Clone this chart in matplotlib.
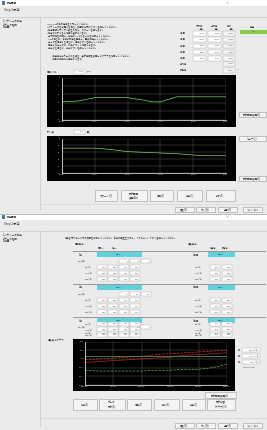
import matplotlib
matplotlib.use("Agg")
import matplotlib.pyplot as plt
from matplotlib.patches import Rectangle
import numpy as np

plt.rcParams['font.family'] = ['Noto Sans CJK JP', 'DejaVu Sans']

W, H = 267, 430

# ---- data ----
chart1_x = [0, 10, 20, 30, 40, 50, 55, 60, 70, 80, 90, 100]
chart1_y = [2.1, 2.2, 2.6, 2.6, 2.6, 2.3, 2.1, 2.1, 2.7, 2.7, 2.7, 2.7]
chart1_xticks = ["00:00", "00:10", "00:20", "00:30", "00:40", "00:50"]
chart1_yticks = ["0", "-10", "-20", "-30", "-40", "-50"]

chart2_x = [0, 10, 20, 30, 40, 50, 60, 70, 80, 90, 100]
chart2_y = [3.6, 3.6, 3.6, 3.4, 3.1, 3.0, 2.9, 2.8, 2.6, 2.5, 2.5]
chart2_xticks = ["00:00", "00:10", "00:20", "00:30", "00:40", "00:50"]
chart2_yticks = ["0", "-10", "-20", "-30", "-40", "-50"]

chart3_x = [0, 10, 20, 30, 40, 50, 60, 70, 80, 90, 100]
chart3_red1 = [2.9, 3.0, 3.1, 3.2, 3.3, 3.5, 3.6, 3.7, 3.8, 3.9, 4.0]
chart3_red2 = [2.6, 2.7, 2.8, 2.9, 3.0, 3.1, 3.2, 3.4, 3.5, 3.6, 3.7]
chart3_green1 = [3.3, 3.3, 3.3, 3.3, 3.3, 3.3, 3.3, 3.3, 3.3, 3.3, 3.3]
chart3_green2 = [1.7, 1.6, 1.6, 1.6, 1.6, 1.7, 1.7, 1.8, 1.8, 2.0, 2.4]
chart3_xticks = ["0:00:00", "1:00:00", "2:00:00", "3:00:00", "4:00:00", "5:00:00"]
chart3_yticks = ["-20.0", "-10.0", "0.0", "10.0", "20.0", "30.0"]
legend3 = ["Max.T(℃)", "Set T(℃)", "Min.T(℃)"]

table1_rows = ["1段目", "2段目", "3段目", "4段目", "5段目"]
table1_low = ["-0.198", "-0.212", "-0.196", "-0.204", "-0.200"]
table1_high = ["-0.090", "-0.094", "-0.101", "-0.098", "-0.096"]
table1_avg = ["-0.142", "-0.150", "-0.147", "-0.152", "-0.148"]

stage_labels = ["1段", "2段", "3段"]
stage_names = ["0.0kv", "0.0kv", "0.0kV"]
temp_labels = ["1段目", "2段目", "3段目"]
row_labels = ["Tin(℃)", "Tout(℃)", "Tset(℃)"]

buttons1 = ["スタート(S)", "表示範囲\n変更(Alt)", "保存(S)", "中止(C)", "終了(F)"]
buttons2 = ["読込(R)", "データ\n表示(D)", "保存(S)", "削除(D)", "中止(C)", "表示切替\n(グラフ)(G)"]
nav_buttons = ["戻る(B)", "次へ(N)", "完了(F)", "キャンセル"]

fig = plt.figure(figsize=(W / 100, H / 100), dpi=100)
bg = fig.add_axes([0, 0, 1, 1])
bg.set_xlim(0, W)
bg.set_ylim(H, 0)
bg.axis('off')

BG = '#ebebeb'
fs = 2.2

def rect(x, y, w, h, fc, ec='none', lw=0.4, z=1):
    bg.add_patch(Rectangle((x, y), w, h, facecolor=fc, edgecolor=ec, linewidth=lw, zorder=z))

def txt(x, y, s, size=fs, color='#333333', ha='left', va='center', **kw):
    bg.text(x, y, s, fontsize=size, color=color, ha=ha, va=va, zorder=5, **kw)

def button(x, y, w, h, label):
    rect(x, y, w, h, '#f4f4f4', '#999999', 0.4, 3)
    txt(x + w / 2, y + h / 2, label, size=1.8, ha='center', linespacing=1.0)

def box(x, y, w, h, s='', fc='white'):
    rect(x, y, w, h, fc, '#aaaaaa', 0.3, 3)
    if s:
        txt(x + w - 1, y + h / 2, s, size=1.6, ha='right', color='#555555')

def window(y0, y1, step):
    rect(0, y0, W, y1 - y0, BG, z=0)
    rect(0, y0, W, 6, 'white', z=1)
    rect(1.5, y0 + 1.2, 3.5, 3.5, '#4a6fb0', z=2)
    txt(7, y0 + 3, "設定画面", size=1.8)
    txt(225, y0 + 3, "×", size=2.2, color='#666666')
    txt(4, y0 + 10, step, size=2.2)
    bg.plot([0, W], [y0 + 17, y0 + 17], color='#c8c8c8', lw=0.5, zorder=2)
    txt(3, y0 + 21, "1.パラメータ設定", size=1.8)
    txt(3, y0 + 24, "2.データ確認", size=1.8)
    txt(3, y0 + 27, "3.結果", size=1.8, weight='bold')
    bg.plot([40, 40], [y0 + 17, y1 - 4], color='#c8c8c8', lw=0.5, zorder=2)

def nav(y):
    xs = [175, 196, 218, 243]
    for x, lab in zip(xs, nav_buttons):
        button(x, y, 19, 5, lab)

def make_chart(rect_px, inner_px, xs, ys_list, styles, xt, yt):
    x0, y0, w, h = rect_px
    rect(x0, y0, w, h, 'black', z=2)
    ix0, iy0, iw, ih = inner_px
    ax = fig.add_axes([ix0 / W, 1 - (iy0 + ih) / H, iw / W, ih / H])
    ax.set_facecolor('black')
    for ys, st in zip(ys_list, styles):
        ax.plot(xs, ys, **st)
    ax.set_xlim(0, 100)
    ax.set_ylim(0, 5)
    ax.set_xticks(np.linspace(0, 100, len(xt)))
    ax.set_xticklabels(xt, fontsize=1.6, color='#dddddd')
    ax.set_yticks(np.linspace(5, 0, len(yt)))
    ax.set_yticklabels(yt, fontsize=1.6, color='#dddddd')
    ax.tick_params(length=0, pad=1)
    ax.grid(True, color='#666666', lw=0.3)
    for s in ['top', 'right']:
        ax.spines[s].set_visible(False)
    for s in ['left', 'bottom']:
        ax.spines[s].set_color('white')
        ax.spines[s].set_linewidth(0.5)
    return ax

# ================= window 1 =================
window(0, 214, "Step 1 設定")
instr = [
    "1.WNxxxxの各設定値を入力してください。",
    "2.パラメータを変更する場合、変更後に反映ボタンを押してください。",
    "3.測定周期とサンプル数を入力し、スタートを押します。",
    "4.測定が終了すると結果が表示されます。",
    "  上下限値を確認し、判定がOKであることを確認してください。",
    "  NGの場合は、各段の設定を見直し、再度測定してください。",
    "  データを保存する場合は、保存ボタンを押してください。",
    "  保存したデータは、読込ボタンで確認できます。",
    "  中止する場合は、中止ボタンを押してください。",
]
for i, s in enumerate(instr):
    txt(47, 24.5 + i * 3.0, s, size=1.6)
txt(50, 56, "・測定値にエラーがある場合、表示範囲を変更してグラフを確認してください。", size=1.6)
txt(50, 59, "・結果は自動的に保存されます。", size=1.6)

# table
for x, s in zip([199, 214, 229], ["下限値", "上限値", "平均"]):
    txt(x, 25.5, s, size=1.7, ha='center')
for x in [204, 219, 234]:
    txt(x, 29, "[単位]", size=1.4, ha='right')
for i, lab in enumerate(table1_rows):
    y = 31 + i * 6.3
    txt(180, y + 2.2, lab, size=1.7)
    box(193, y, 13, 4.5, table1_low[i])
    box(208, y, 13, 4.5, table1_high[i])
    box(223, y, 12, 4.5, table1_avg[i], fc='#f5f5f5')
txt(180, 63.5, "平均値", size=1.7)
box(223, 61.5, 12, 4.5, "-0.148", fc='#f5f5f5')
txt(180, 70, "誤差値", size=1.7)
box(223, 68, 12, 4.5, "0.020", fc='#f5f5f5')
txt(237, 70, "%", size=1.6)
txt(252, 27, "判定", size=1.8, ha='center')
rect(240, 29.5, 27, 4, '#86cf45', z=3)
txt(253, 31.5, "OK", size=1.7, ha='center', color='#1a4d00')

# chart 1
txt(47, 71.5, "周期(ﾐﾘ秒)", size=1.7)
box(74, 69.5, 11, 4, "1000")
txt(87, 71.5, "[ms]", size=1.6)
make_chart((47, 74.5, 189, 52.5), (62, 77.5, 164, 42), chart1_x, [chart1_y],
           [dict(color='#7fd46a', lw=0.5)], chart1_xticks, chart1_yticks)
button(239, 112, 27, 5, "表示範囲変更(V)")

# chart 2
txt(47, 132, "ｻﾝﾌﾟﾙ数", size=1.7)
box(74, 130, 11, 4, "100")
txt(87, 132, "[回]", size=1.6)
make_chart((47, 135.5, 189, 45.5), (62, 138.5, 164, 34.5), chart2_x, [chart2_y],
           [dict(color='#7fd46a', lw=0.5)], chart2_xticks, chart2_yticks)
button(239, 136, 27, 5, "セーブ(L)")
button(239, 176, 27, 5, "表示範囲変更(V)")
txt(232, 183, "▲", size=1.5, color='white')

for x, w, lab in zip([95, 121, 150, 177, 206], [22, 26, 23, 25, 29], buttons1):
    button(x, 190, w, 11, lab)
bg.plot([40, W], [204, 204], color='#d0d0d0', lw=0.4, zorder=2)
nav(207)

# ================= window 2 =================
window(214, 430, "Step 2 設定")
rect(0, 214, W, 1.2, '#bdbdbd', z=2)
txt(65, 238, "測定を行う前に以下の項目を確認してください。各段の電圧を入力し、「スタート」ボタンを押してください。", size=1.6)
txt(75, 243.5, "周期条件", size=1.7)
txt(188, 243.5, "温度条件", size=1.7)
txt(98, 248, "周期(S)", size=1.5)
txt(112, 248, "値(kV)", size=1.5)
txt(210, 248, "測定値", size=1.5)
txt(222, 248, "設定値", size=1.5)

block_tops = [252, 285, 318]
for b, yb in enumerate(block_tops):
    bg.plot([73, 265], [yb - 1.5, yb - 1.5], color='#888888', lw=0.6, zorder=2)
    txt(79, yb + 2.5, stage_labels[b], size=1.8)
    rect(97, yb, 45, 4.8, '#5fd3dc', z=3)
    txt(119, yb + 2.4, stage_names[b], size=1.6, ha='center', color='#114')
    txt(193, yb + 2.5, temp_labels[b], size=1.8)
    rect(208, yb, 27, 4.8, '#5fd3dc', z=3)
    txt(221, yb + 2.4, "0.0kv", size=1.6, ha='center', color='#114')
    y = yb + 7
    txt(78, y + 2, "Dur.(秒)", size=1.6)
    for k, x in enumerate([119, 130, 141]):
        box(x, y, 10, 4.2, ["5", "10", "5"][k] if b != 1 else ["10", "0.1", "1.0"][k])
    for r in range(3):
        yy = yb + 13 + r * 6
        if yy > 333:
            break
        txt(85, yy + 2, row_labels[r], size=1.5)
        for k, x in enumerate([97, 108, 119, 130]):
            box(x, yy, 10, 4.2, ["1.00", "0.00", "8.01", "0.58"][k])
        txt(195, yy + 2, row_labels[r], size=1.5)
        box(210, yy, 10, 4.2, "-1.60")
        box(222, yy, 10, 4.2, "0.00")
for r in range(3):
    yy = 322 + r * 5.3
    txt(85, yy + 2, row_labels[r], size=1.5)
    for k, x in enumerate([97, 108, 119, 130]):
        box(x, yy, 10, 4.0, ["1.00", "0.00", "8.01", "0.58"][k])
    txt(195, yy + 2, row_labels[r], size=1.5)
    box(210, yy, 10, 4.0, "-1.60")
    box(222, yy, 10, 4.0, "0.00")

# chart 3
txt(48, 339.5, "温度変化グラフ", size=1.7)
ax3 = make_chart((73, 338.5, 162, 52.5), (85, 341.5, 142, 43.5), chart3_x,
                 [chart3_red1, chart3_red2, chart3_green1, chart3_green2],
                 [dict(color='#cc3333', lw=0.5, ls='--'),
                  dict(color='#b02a2a', lw=0.5),
                  dict(color='#6aa84f', lw=0.5),
                  dict(color='#58b85a', lw=0.5, ls='--')],
                 chart3_xticks, chart3_yticks)
for i, lab in enumerate(legend3):
    y = 348 + i * 6
    txt(238, y + 2, "○", size=1.4)
    box(242, y, 18, 4.2, lab)
txt(243, 367, "[DATA INFO]", size=1.5)
button(205, 392, 31, 6, "表示範囲変更(V)")

for x, w, lab in zip([73, 99, 127, 154, 182, 207], [24, 26, 24, 25, 23, 28], buttons2):
    button(x, 399, w, 11, lab)
bg.plot([40, W], [418, 418], color='#d0d0d0', lw=0.4, zorder=2)
nav(423)

fig.savefig("out.png", dpi=100, facecolor='white')
